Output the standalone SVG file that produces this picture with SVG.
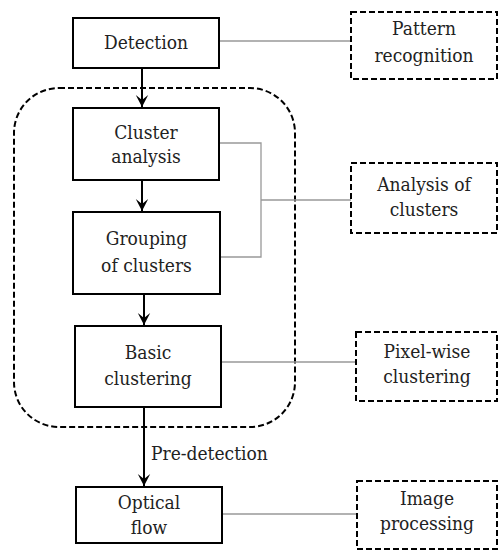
<svg xmlns="http://www.w3.org/2000/svg" width="499" height="550" viewBox="0 0 499 550">
<style>
.box{fill:#fff;stroke:#000;stroke-width:2}
.dbox{fill:none;stroke:#000;stroke-width:2;stroke-dasharray:6,3}
.gl{fill:none;stroke:#999;stroke-width:1.3}
.ar{fill:none;stroke:#000;stroke-width:2}
.t{font-family:'DejaVu Serif Condensed','DejaVu Serif',serif;font-stretch:condensed;font-size:19px;fill:#222;text-anchor:middle}
</style>
<defs>
<marker id="ah" markerWidth="14" markerHeight="14" viewBox="-13 -7 14 14" refX="0" refY="0" orient="auto" markerUnits="userSpaceOnUse">
<path d="M-12,-6.2 L0,0 L-12,6.2 L-7,0 Z" fill="#000"/>
</marker>
</defs>
<rect x="0" y="0" width="499" height="550" fill="#fff"/>
<path class="dbox" d="M59,88 H250 A45,45 0 0 1 295,133 V382 A45,45 0 0 1 250,427 H59 A45,45 0 0 1 14,382 V133 A45,45 0 0 1 59,88 Z"/>
<g id="connectors">
<line class="ar" x1="142" y1="68" x2="142" y2="107" marker-end="url(#ah)"/>
<line class="ar" x1="142" y1="180" x2="142" y2="211" marker-end="url(#ah)"/>
<line class="ar" x1="144" y1="294" x2="144" y2="325" marker-end="url(#ah)"/>
<line class="ar" x1="144" y1="407" x2="144" y2="486" marker-end="url(#ah)"/>
<text class="t" x="151" y="460" style="text-anchor:start">Pre-detection</text>
<line class="gl" x1="219" y1="41" x2="351" y2="41"/>
<polyline class="gl" points="219,143 261,143 261,257 220,257"/>
<line class="gl" x1="261" y1="200" x2="351" y2="200"/>
<line class="gl" x1="221" y1="362" x2="356" y2="362"/>
<line class="gl" x1="222" y1="514" x2="357" y2="514"/>
</g>
<g class="t">
<g id="detection"><rect class="box" x="73" y="18" width="146" height="50"/><text x="146" y="49">Detection</text></g>
<g id="cluster-analysis"><rect class="box" x="73" y="108" width="146" height="72"/><text x="146" y="139">Cluster</text><text x="146" y="163">analysis</text></g>
<g id="grouping"><rect class="box" x="73" y="212" width="147" height="82"/><text x="146.5" y="245">Grouping</text><text x="146.5" y="272">of clusters</text></g>
<g id="basic"><rect class="box" x="75" y="326" width="146" height="81"/><text x="148" y="359">Basic</text><text x="148" y="385">clustering</text></g>
<g id="optical"><rect class="box" x="76" y="487" width="146" height="56"/><text x="149" y="509">Optical</text><text x="149" y="534">flow</text></g>
<g id="pattern"><rect class="dbox" x="351" y="12" width="146" height="67"/><text x="424" y="35">Pattern</text><text x="424" y="62">recognition</text></g>
<g id="analysis"><rect class="dbox" x="351" y="163" width="146" height="70"/><text x="424" y="191">Analysis of</text><text x="424" y="216">clusters</text></g>
<g id="pixelwise"><rect class="dbox" x="356" y="332" width="141" height="69"/><text x="427" y="358">Pixel-wise</text><text x="427" y="383">clustering</text></g>
<g id="image"><rect class="dbox" x="357" y="481" width="140" height="68"/><text x="427" y="505">Image</text><text x="427" y="530">processing</text></g>
</g>
</svg>
